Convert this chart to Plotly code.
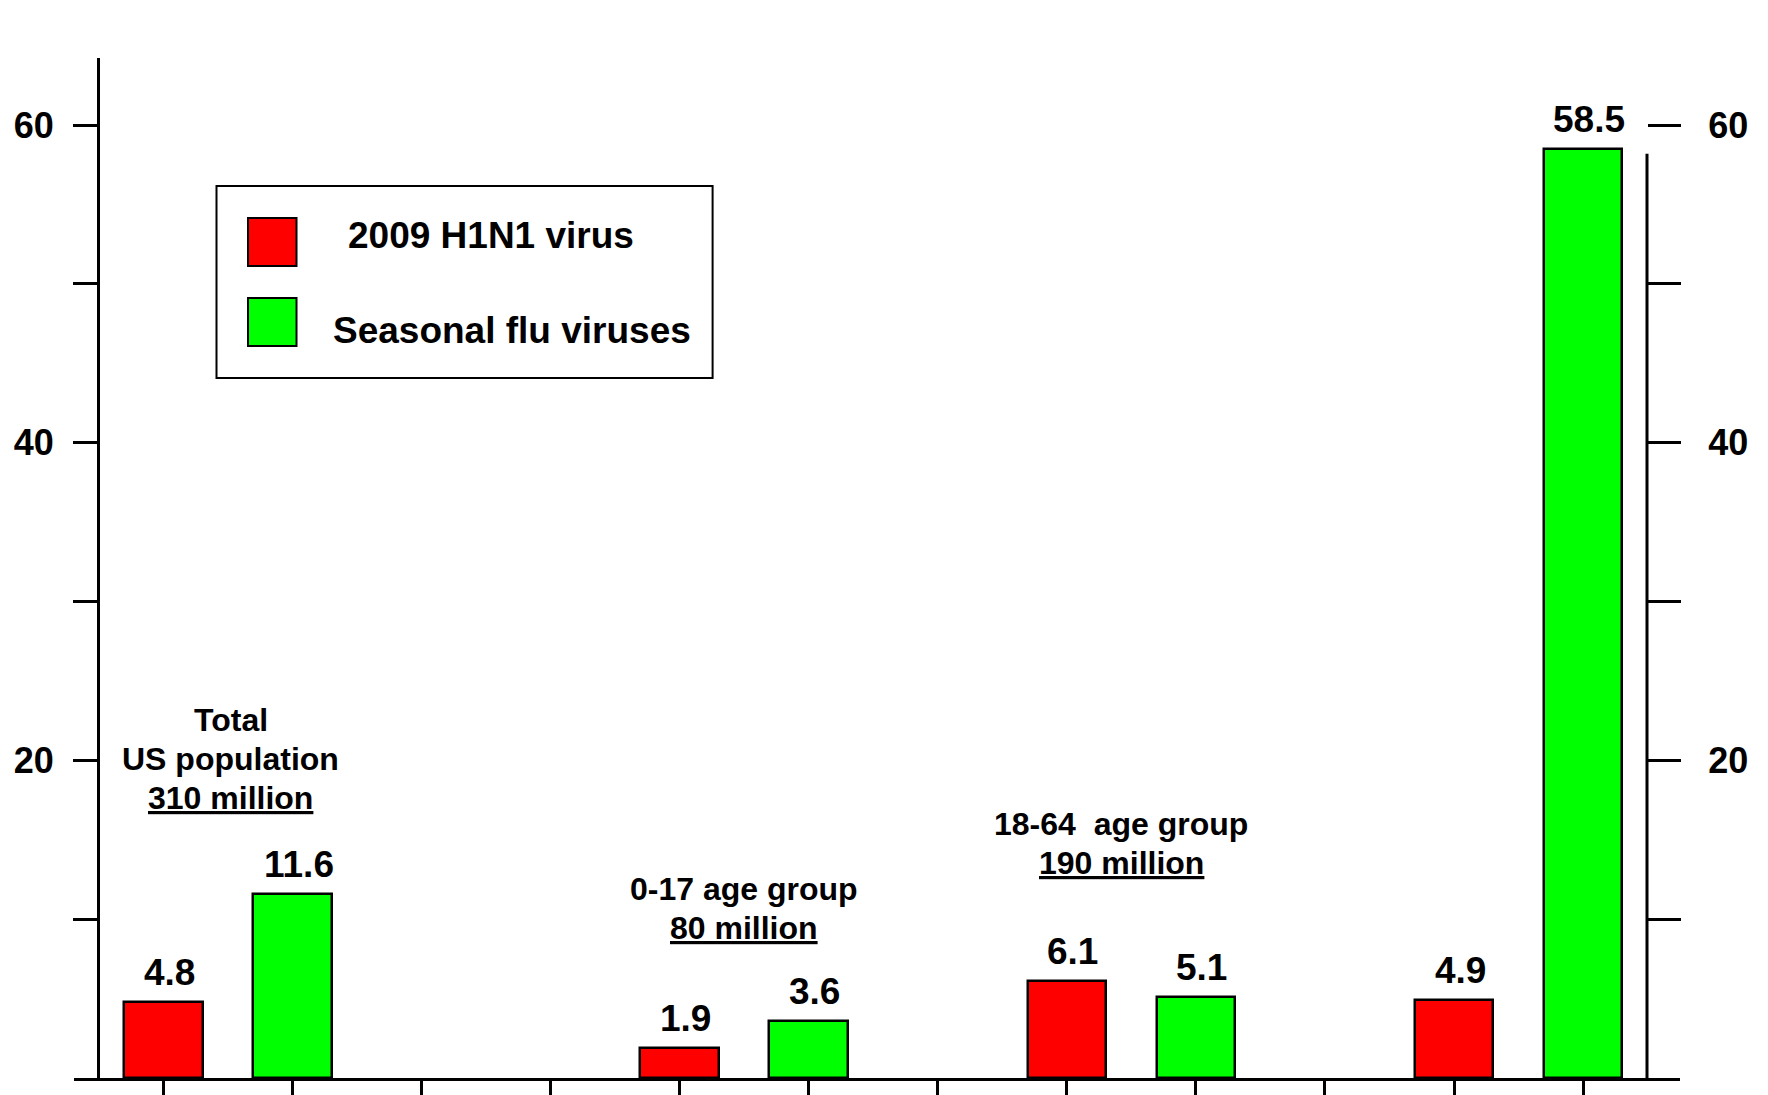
import plotly.graph_objects as go

# ---------------- data ----------------
groups = ["Total US population", "0-17 age group", "18-64 age group", "65+ age group"]
group_label_lines = [
    ["Total", "US population", "<u>310 million</u>"],
    ["0-17 age group", "<u>80 million</u>"],
    ["18-64\u00a0 age group", "<u>190 million</u>"],
    ["65+ age group", "<u>40 million</u>"],
]
series_names = ["2009 H1N1 virus", "Seasonal flu viruses"]
h1n1 = [4.8, 1.9, 6.1, 4.9]
seasonal = [11.6, 3.6, 5.1, 58.5]
ytick_vals = [10, 20, 30, 40, 50, 60]
ytick_text = ["", "20", "", "40", "", "60"]

# ---------------- layout / positions ----------------
OFF = 8                     # default page body margin of the html page
W, H = 1768 - OFF, 1095 - OFF
# plot-area edges in window pixels
L, R, T, B = 74, 1680, 58, 1078
group_slot = [0, 4, 7, 10]          # slot of the first bar in each group
x_range = [-0.6935, 11.751]
y_range = [0, 64.23]
# (x slot, y of first line) for each group label block
group_label_pos = [(0.52, 22.54), (4.5, 11.90), (7.42, 16.0), (10.88, 66.31)]
LINE_PX = 39

FONT = "Liberation Sans, Arial, Helvetica, sans-serif"
RED = "#ff0000"
GREEN = "#00ff00"


def px_x(p):
    return (p - L) / (R - L)


def px_y(p):
    return (B - p) / (B - T)


x_h1n1 = [s for s in group_slot]
x_seas = [s + 1 for s in group_slot]

fig = go.Figure()
fig.add_trace(go.Bar(x=x_h1n1, y=h1n1, name=series_names[0], width=0.61,
                     marker=dict(color=RED, line=dict(color="black", width=2.5)),
                     showlegend=False, hoverinfo="x+y"))
fig.add_trace(go.Bar(x=x_seas, y=seasonal, name=series_names[1], width=0.61,
                     marker=dict(color=GREEN, line=dict(color="black", width=2.5)),
                     showlegend=False, hoverinfo="x+y"))
# invisible trace to register the right-hand axis
fig.add_trace(go.Scatter(x=[None], y=[None], yaxis="y2", showlegend=False,
                         hoverinfo="skip"))

annotations = []
# value labels above bars
for xs, vals in ((x_h1n1, h1n1), (x_seas, seasonal)):
    for xv, v in zip(xs, vals):
        annotations.append(dict(x=xv, y=v, xref="x", yref="y", text=f"{v}",
                                showarrow=False, yanchor="bottom", yshift=7, xshift=6,
                                font=dict(family=FONT, size=37, color="black", weight="bold")))
# group labels (one annotation per line)
for (gx, gy), lines in zip(group_label_pos, group_label_lines):
    for i, txt in enumerate(lines):
        annotations.append(dict(x=gx, y=gy, xref="x", yref="y", text=txt, showarrow=False,
                                yanchor="middle", xanchor="center", yshift=-LINE_PX * i,
                                font=dict(family=FONT, size=32, color="black", weight="bold")))
# custom legend text
annotations.append(dict(x=px_x(346), y=px_y(235), xref="paper", yref="paper",
                        text=series_names[0], showarrow=False, xanchor="left", yanchor="middle",
                        font=dict(family=FONT, size=37, color="black", weight="bold")))
annotations.append(dict(x=px_x(331), y=px_y(330), xref="paper", yref="paper",
                        text=series_names[1], showarrow=False, xanchor="left", yanchor="middle",
                        font=dict(family=FONT, size=37, color="black", weight="bold")))

shapes = [
    # right axis line
    dict(type="line", xref="paper", yref="y", x0=px_x(1647), x1=px_x(1647), y0=0, y1=58.2,
         line=dict(color="black", width=3)),
    # legend box
    dict(type="rect", xref="paper", yref="paper", x0=px_x(216.5), x1=px_x(712.6),
         y0=px_y(378), y1=px_y(186), line=dict(color="black", width=2), fillcolor="white",
         layer="below"),
    dict(type="rect", xref="paper", yref="paper", x0=px_x(248), x1=px_x(296.5),
         y0=px_y(266), y1=px_y(218), line=dict(color="black", width=2), fillcolor=RED),
    dict(type="rect", xref="paper", yref="paper", x0=px_x(248), x1=px_x(296.5),
         y0=px_y(346), y1=px_y(298), line=dict(color="black", width=2), fillcolor=GREEN),
]

tickfont = dict(family=FONT, size=36, color="black", weight="bold")

fig.update_layout(
    width=W, height=H,
    margin=dict(l=L - OFF, r=(W + OFF) - R, t=T - OFF, b=(H + OFF) - B, pad=0,
                autoexpand=False),
    paper_bgcolor="white", plot_bgcolor="white",
    bargap=0,
    xaxis=dict(range=x_range, showgrid=False, zeroline=False, showline=True,
               linecolor="black", linewidth=3, ticks="outside", ticklen=17, tickwidth=3,
               tickcolor="black", tickvals=list(range(12)), showticklabels=False,
               automargin=False),
    yaxis=dict(range=y_range, showgrid=False, zeroline=False, showline=True,
               linecolor="black", linewidth=3, anchor="free", position=px_x(98),
               ticks="outside", ticklen=24, tickwidth=3, tickcolor="black",
               tickvals=ytick_vals, ticktext=ytick_text, tickfont=tickfont,
               ticklabelstandoff=12, automargin=False),
    yaxis2=dict(range=y_range, overlaying="y", side="right", anchor="free",
                position=px_x(1647), showgrid=False, zeroline=False, showline=False,
                ticks="outside", ticklen=33, tickwidth=3, tickcolor="black",
                tickvals=ytick_vals, ticktext=ytick_text, tickfont=tickfont,
                ticklabelstandoff=20, automargin=False),
    annotations=annotations,
    shapes=shapes,
    showlegend=False,
)

fig.write_html("out.html")
